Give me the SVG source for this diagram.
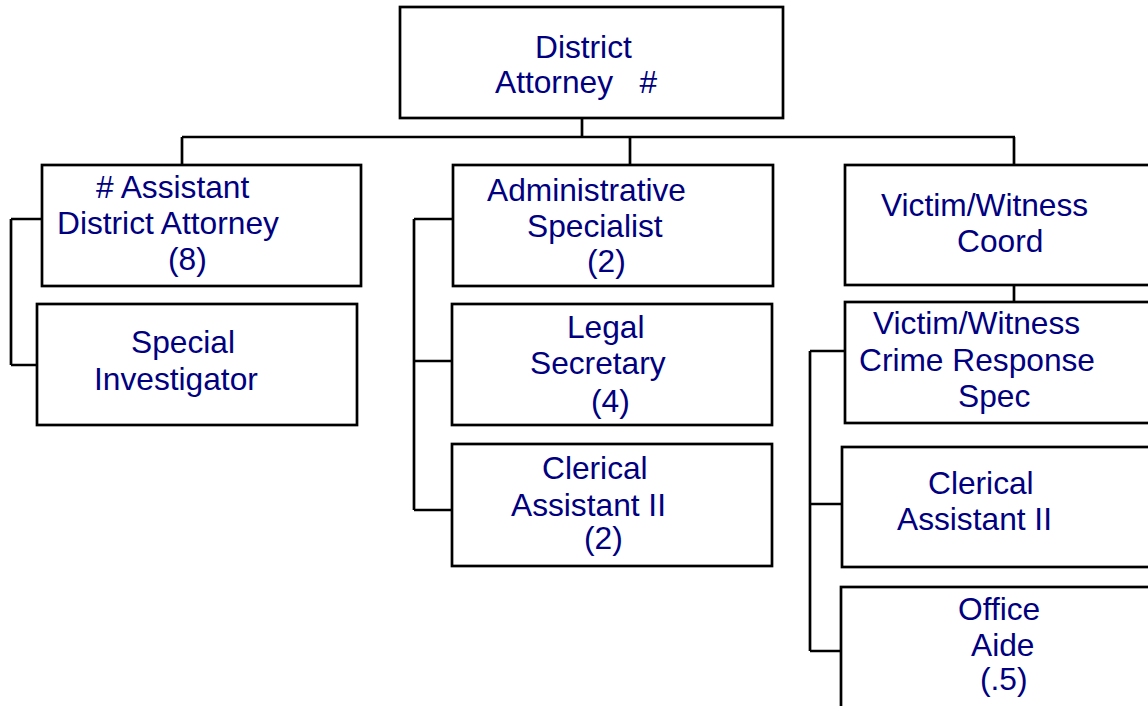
<svg xmlns="http://www.w3.org/2000/svg" width="1148" height="706" viewBox="0 0 1148 706">
<style>
.box{fill:#fff;stroke:#000;stroke-width:2.7}
.ln{fill:none;stroke:#000;stroke-width:2.7}
text{font-family:"Liberation Sans",Arial,sans-serif;font-size:31.7px;fill:#000080}
</style>
<rect width="1148" height="706" fill="#fff"/>
<g id="connectors">
<path class="ln" d="M582,118V137M182,137H1015M182,137V165M630,137V165M1014,137V165"/>
<path class="ln" d="M11,219V365M11,219H42M11,365H37"/>
<path class="ln" d="M414,219V510M414,219H453M414,361H452M414,510H452"/>
<path class="ln" d="M1014,285V302"/>
<path class="ln" d="M810,351V651M810,351H845M810,504H842M810,651H841"/>
</g>
<g id="da"><rect class="box" x="400" y="7" width="383" height="111"/><text x="535" y="58">District</text><text x="495" y="93" xml:space="preserve">Attorney   #</text></g>
<g id="ada"><rect class="box" x="42" y="165" width="319" height="121"/><text x="96" y="198"># Assistant</text><text x="57" y="234">District Attorney</text><text x="168" y="270">(8)</text></g>
<g id="si"><rect class="box" x="37" y="304" width="320" height="121"/><text x="131" y="353">Special</text><text x="94" y="390">Investigator</text></g>
<g id="as"><rect class="box" x="453" y="165" width="320" height="121"/><text x="487" y="201">Administrative</text><text x="527" y="237">Specialist</text><text x="587" y="272">(2)</text></g>
<g id="ls"><rect class="box" x="452" y="304" width="320" height="121"/><text x="567" y="338">Legal</text><text x="530" y="374">Secretary</text><text x="591" y="412">(4)</text></g>
<g id="ca"><rect class="box" x="452" y="444" width="320" height="122"/><text x="542" y="479">Clerical</text><text x="511" y="516">Assistant II</text><text x="584" y="549">(2)</text></g>
<g id="vwc"><rect class="box" x="845" y="165" width="320" height="120"/><text x="881" y="216">Victim/Witness</text><text x="957" y="252">Coord</text></g>
<g id="vwcrs"><rect class="box" x="845" y="302" width="320" height="121"/><text x="873" y="334">Victim/Witness</text><text x="859" y="371">Crime Response</text><text x="958" y="407">Spec</text></g>
<g id="ca2"><rect class="box" x="842" y="447" width="320" height="120"/><text x="928" y="494">Clerical</text><text x="897" y="530">Assistant II</text></g>
<g id="oa"><rect class="box" x="841" y="587" width="320" height="130"/><text x="958" y="620">Office</text><text x="971" y="656">Aide</text><text x="980" y="690">(.5)</text></g>
</svg>
